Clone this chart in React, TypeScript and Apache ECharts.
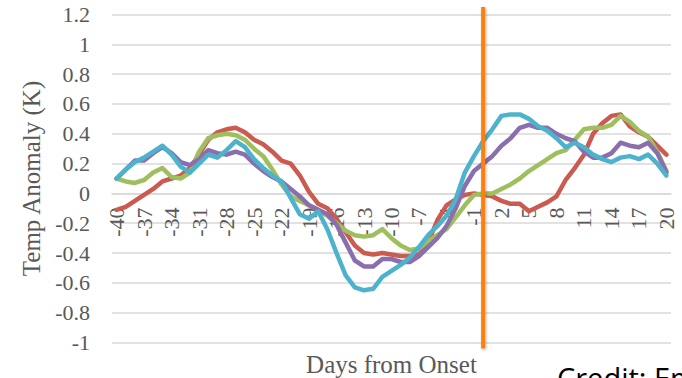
import React, { useEffect, useRef } from "react";
import * as echarts from "echarts";

const days = [
  "-40", "-39", "-38", "-37", "-36", "-35", "-34", "-33", "-32", "-31",
  "-30", "-29", "-28", "-27", "-26", "-25", "-24", "-23", "-22", "-21",
  "-20", "-19", "-18", "-17", "-16", "-15", "-14", "-13", "-12", "-11",
  "-10", "-9", "-8", "-7", "-6", "-5", "-4", "-3", "-2", "-1",
  "0", "1", "2", "3", "4", "5", "6", "7", "8", "9",
  "10", "11", "12", "13", "14", "15", "16", "17", "18", "19", "20",
];

const redSeries = [
  -0.11, -0.09, -0.05, -0.01, 0.03, 0.08, 0.10, 0.12, 0.17, 0.26,
  0.36, 0.41, 0.43, 0.44, 0.41, 0.36, 0.33, 0.28, 0.22, 0.20,
  0.12, 0.01, -0.07, -0.10, -0.17, -0.26, -0.35, -0.40, -0.41, -0.40,
  -0.41, -0.42, -0.42, -0.41, -0.33, -0.18, -0.08, -0.04, -0.01, 0.00,
  -0.01, -0.02, -0.05, -0.07, -0.07, -0.12, -0.09, -0.06, -0.02, 0.09,
  0.17, 0.26, 0.40, 0.47, 0.52, 0.53, 0.45, 0.41, 0.38, 0.32, 0.26,
];

const greenSeries = [
  0.10, 0.08, 0.07, 0.09, 0.14, 0.17, 0.11, 0.10, 0.14, 0.28,
  0.37, 0.39, 0.40, 0.39, 0.36, 0.30, 0.25, 0.16, 0.06, -0.02,
  -0.05, -0.08, -0.11, -0.15, -0.20, -0.25, -0.28, -0.29, -0.28, -0.24,
  -0.30, -0.35, -0.38, -0.37, -0.32, -0.28, -0.24, -0.16, -0.08, -0.01,
  0.00, 0.00, 0.03, 0.06, 0.10, 0.15, 0.19, 0.23, 0.27, 0.29,
  0.36, 0.43, 0.44, 0.44, 0.46, 0.52, 0.48, 0.42, 0.38, 0.28, 0.15,
];

const purpleSeries = [
  0.10, 0.16, 0.22, 0.22, 0.27, 0.31, 0.27, 0.21, 0.19, 0.23,
  0.29, 0.27, 0.26, 0.28, 0.26, 0.20, 0.15, 0.11, 0.08, 0.03,
  -0.02, -0.08, -0.11, -0.14, -0.21, -0.33, -0.45, -0.49, -0.49, -0.44,
  -0.44, -0.46, -0.46, -0.42, -0.36, -0.30, -0.22, -0.10, 0.05, 0.15,
  0.20, 0.25, 0.32, 0.37, 0.44, 0.46, 0.44, 0.44, 0.40, 0.37,
  0.35, 0.28, 0.24, 0.24, 0.27, 0.34, 0.32, 0.31, 0.34, 0.27, 0.14,
];

const cyanSeries = [
  0.10, 0.16, 0.21, 0.24, 0.28, 0.32, 0.26, 0.18, 0.14, 0.20,
  0.26, 0.24, 0.29, 0.35, 0.31, 0.23, 0.17, 0.12, 0.08, -0.03,
  -0.14, -0.17, -0.12, -0.24, -0.40, -0.55, -0.63, -0.65, -0.64, -0.56,
  -0.52, -0.48, -0.43, -0.36, -0.28, -0.22, -0.15, -0.04, 0.14, 0.25,
  0.35, 0.43, 0.52, 0.53, 0.53, 0.50, 0.45, 0.42, 0.37, 0.31,
  0.34, 0.31, 0.26, 0.23, 0.21, 0.24, 0.25, 0.23, 0.26, 0.20, 0.12,
];

const onsetDay = "0";
const onsetTop = 1.25;
const onsetBottom = -1.04;
const yMin = -1;
const yMax = 1.2;

const TEXT = "#595959";
const SERIF = "'Liberation Serif', 'Times New Roman', serif";

export default function App() {
  const ref = useRef<HTMLDivElement>(null);

  useEffect(() => {
    document.body.style.margin = "0";
    const chart = echarts.init(ref.current!, null, { renderer: "svg" });

    const lineSeries = (data: number[], color: string) => ({
      type: "line",
      data,
      symbol: "none",
      smooth: false,
      lineStyle: { color, width: 4.5, join: "round", cap: "round" },
      itemStyle: { color },
      silent: true,
    });

    const credit = {
      type: "text",
      left: 557,
      top: 363,
      silent: true,
      style: {
        text: "Credit: Em",
        fill: "#000000",
        font: "29px 'Open Sans', 'Noto Sans', sans-serif",
      },
    };

    chart.setOption({
      animation: false,
      textStyle: { fontFamily: SERIF },
      grid: {
        left: 112,
        right: 11,
        top: 14.5,
        bottom: 35.5,
        containLabel: false,
        outerBoundsContain: "axisLabel",
        outerBounds: { left: -400, top: -400, right: -400, bottom: -400 },
      },
      xAxis: {
        type: "category",
        data: days,
        boundaryGap: true,
        position: "bottom",
        axisLine: { show: true, onZero: false, lineStyle: { color: "#D9D9D9", width: 1.5 } },
        axisTick: { show: false },
        axisLabel: {
          interval: 2,
          rotate: 90,
          margin: 14,
          fontSize: 22,
          color: TEXT,
          fontFamily: SERIF,
        },
        splitLine: { show: false },
        name: "Days from Onset",
        nameLocation: "middle",
        nameGap: 159,
        nameTextStyle: { fontSize: 25, color: TEXT, fontFamily: SERIF },
      },
      yAxis: {
        type: "value",
        min: yMin,
        max: yMax,
        interval: 0.2,
        axisLine: { show: false },
        axisTick: { show: false },
        axisLabel: { fontSize: 22, color: TEXT, margin: 22, fontFamily: SERIF },
        splitLine: { show: true, lineStyle: { color: "#D9D9D9", width: 1.5 } },
        name: "Temp Anomaly (K)",
        nameLocation: "middle",
        nameGap: 68,
        nameTextStyle: { fontSize: 25, color: TEXT, fontFamily: SERIF },
      },
      series: [
        lineSeries(redSeries, "#CB5A50"),
        lineSeries(greenSeries, "#9FBE5E"),
        lineSeries(purpleSeries, "#8A6EAD"),
        lineSeries(cyanSeries, "#4DB3CD"),
      ],
      graphic: [credit],
    });

    // Move the category axis up to the zero line, and place the onset marker,
    // both through the chart's own scales.
    const zeroY = Number(chart.convertToPixel({ yAxisIndex: 0 }, 0));
    const minY = Number(chart.convertToPixel({ yAxisIndex: 0 }, yMin));
    const x = Number(chart.convertToPixel({ xAxisIndex: 0 }, onsetDay));
    const yTop = Number(chart.convertToPixel({ yAxisIndex: 0 }, onsetTop));
    const yBottom = Number(chart.convertToPixel({ yAxisIndex: 0 }, onsetBottom));

    chart.setOption({
      xAxis: { offset: zeroY - minY },
      graphic: [
        credit,
        {
          type: "rect",
          silent: true,
          z: 100,
          shape: { x: x - 2, y: yTop, width: 4, height: yBottom - yTop },
          style: {
            fill: "#FF7F0E",
            shadowBlur: 3,
            shadowColor: "rgba(0,0,0,0.3)",
            shadowOffsetX: 1,
            shadowOffsetY: 1,
          },
        },
      ],
    });

    return () => chart.dispose();
  }, []);

  return <div ref={ref} style={{ width: 682, height: 378 }} />;
}
